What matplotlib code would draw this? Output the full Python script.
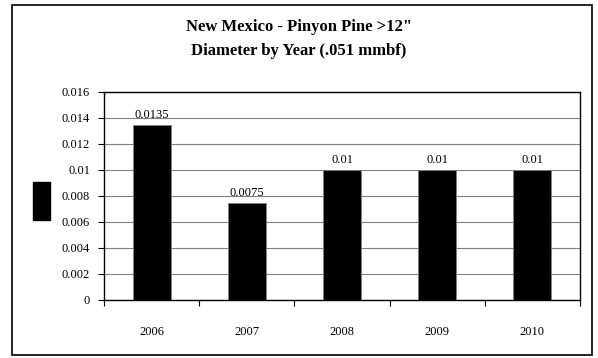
import numpy as np
import matplotlib.pyplot as plt
from matplotlib.patches import Rectangle

# Data
years = ["2006", "2007", "2008", "2009", "2010"]
values = [0.0135, 0.0075, 0.01, 0.01, 0.01]
value_labels = ["0.0135", "0.0075", "0.01", "0.01", "0.01"]
yticks = [0, 0.002, 0.004, 0.006, 0.008, 0.01, 0.012, 0.014, 0.016]
ytick_labels = ["0", "0.002", "0.004", "0.006", "0.008", "0.01", "0.012", "0.014", "0.016"]

plt.rcParams['font.family'] = ['Liberation Serif', 'DejaVu Serif']

W, H = 598, 358
fig = plt.figure(figsize=(W / 100, H / 100), dpi=100)
ax = fig.add_axes([104 / W, 1 - 300 / H, (580 - 104) / W, (300 - 92) / H])

# Outer chart border
fig.patches.append(Rectangle((12 / W, 3 / H), (592 - 12) / W, (353 - 3) / H,
                             transform=fig.transFigure, fill=False,
                             edgecolor='black', linewidth=1.2))

x = np.arange(len(years))
ax.bar(x, values, width=0.4, color='black', edgecolor='#808080', linewidth=0.6, zorder=3)

for xi, v, lab in zip(x, values, value_labels):
    ax.text(xi, v + 0.0003, lab, ha='center', va='bottom', fontsize=9)

ax.set_xlim(-0.5, len(years) - 0.5)
ax.set_ylim(0, 0.016)
ax.set_yticks(yticks)
ax.set_yticklabels(ytick_labels, fontsize=9)
ax.set_xticks(x)
ax.set_xticklabels(years, fontsize=9)
ax.tick_params(axis='x', length=0, pad=19)
ax.set_xticks(np.arange(-0.5, len(years)), minor=True)
ax.tick_params(axis='x', which='minor', length=4, width=0.8, direction='out')
ax.tick_params(axis='y', length=4, width=0.8, direction='out', pad=6)
ax.yaxis.grid(True, color='#808080', linewidth=0.8, zorder=0)
for s in ax.spines.values():
    s.set_color('black')
    s.set_linewidth(1.0)

# Y-axis label (rendered as a solid block in the reference)
fig.patches.append(Rectangle((33 / W, 1 - 220 / H), 17 / W, 38 / H,
                             transform=fig.transFigure, color='black'))

fig.text(0.5, 1 - 27 / H, "New Mexico - Pinyon Pine >12\"", ha='center', va='center',
         fontsize=12, fontweight='bold')
fig.text(0.5, 1 - 51 / H, "Diameter by Year (.051 mmbf)", ha='center', va='center',
         fontsize=12, fontweight='bold')

fig.savefig("out.png", dpi=100)
